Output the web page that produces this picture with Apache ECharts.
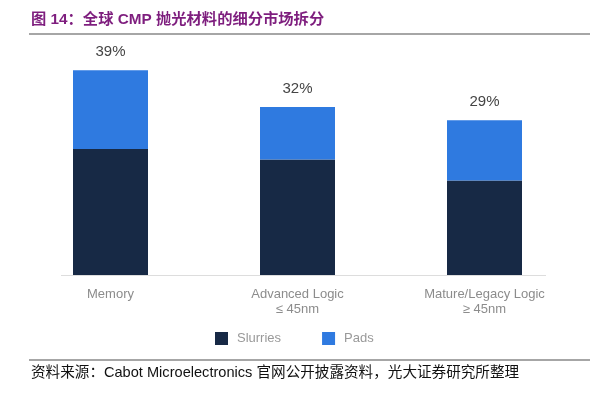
<!DOCTYPE html>
<html><head><meta charset="utf-8">
<script src="https://cdn.jsdelivr.net/npm/echarts@6/dist/echarts.min.js"></script>
<style>html,body{margin:0;padding:0;background:#fff}#c{width:602px;height:396px}</style>
</head><body><div id="c"></div>
<script>
const categories = ['Memory', 'Advanced Logic\n≤ 45nm', 'Mature/Legacy Logic\n≥ 45nm'];
const slurries = [24, 22, 18];
const pads = [15, 10, 11.5];
const totalLabels = ['39%', '32%', '29%'];
const seriesNames = ['Slurries', 'Pads'];

const chart = echarts.init(document.getElementById('c'));
chart.setOption({
  animation: false,
  backgroundColor: '#fff',
  grid: { left: 17, right: 24, top: 65, height: 210 },
  legend: {
    left: 215, top: 332, padding: 0, itemWidth: 13, itemHeight: 13, itemGap: 41,
    icon: 'rect',
    textStyle: { color: '#999', fontSize: 13, fontFamily: 'Liberation Sans, Arial', padding: [0, 0, 0, 4] },
    data: seriesNames
  },
  xAxis: {
    type: 'category', data: categories,
    axisLine: { show: false }, axisTick: { show: false },
    axisLabel: { color: '#8c8c8c', fontSize: 13, fontFamily: 'Liberation Sans, Arial', margin: 12, lineHeight: 15 }
  },
  yAxis: { type: 'value', min: 0, max: 40, show: false, splitLine: { show: false } },
  series: [
    { name: seriesNames[0], type: 'bar', stack: 't', data: slurries, barWidth: 75,
      itemStyle: { color: '#172945' } },
    { name: seriesNames[1], type: 'bar', stack: 't', data: pads, barWidth: 75,
      itemStyle: { color: '#2F7AE0' },
      label: { show: true, position: 'top', distance: 11,
        formatter: p => totalLabels[p.dataIndex],
        color: '#444', fontSize: 15, fontFamily: 'Liberation Sans, Arial' } }
  ],
  graphic: [
    { type: 'text', left: 31, top: 12, style: { text: '图 14：全球 CMP 抛光材料的细分市场拆分', fill: '#7E1E7E',
      font: 'bold 15.3px "Liberation Sans", "Noto Sans CJK SC"' } },
    { type: 'line', shape: { x1: 29, y1: 34, x2: 590, y2: 34 }, style: { stroke: '#888', lineWidth: 1.5 } },
    { type: 'line', shape: { x1: 61, y1: 275.5, x2: 546, y2: 275.5 }, style: { stroke: '#ddd', lineWidth: 1 } },
    { type: 'line', shape: { x1: 29, y1: 360, x2: 590, y2: 360 }, style: { stroke: '#888', lineWidth: 1.5 } },
    { type: 'text', left: 31, top: 366, style: { text: '资料来源：Cabot Microelectronics 官网公开披露资料，光大证券研究所整理', fill: '#111',
      font: '14.6px "Liberation Sans", "Noto Sans CJK SC"' } }
  ]
});
</script></body></html>
